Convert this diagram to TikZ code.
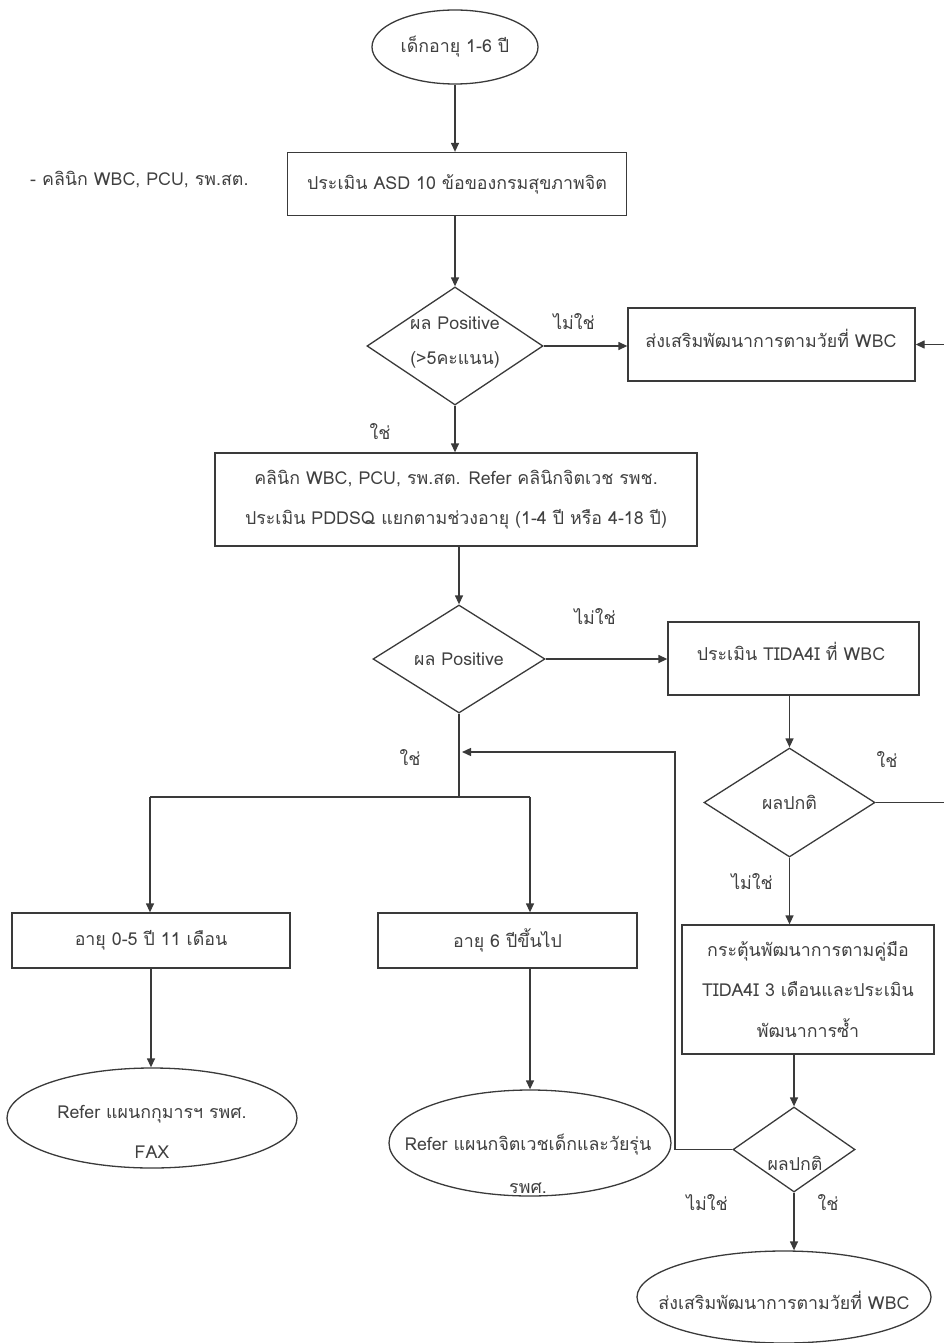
\documentclass[tikz,border=0pt]{standalone}
\usepackage{fontspec}
\setmainfont[Script=Thai]{Loma}
\usetikzlibrary{shapes.geometric,arrows.meta}
\definecolor{linec}{HTML}{3A3A3A}
\definecolor{textc}{HTML}{404040}
\newcommand\thf[1]{\fontsize{17.8}{#1}\selectfont}
\begin{document}
\begin{tikzpicture}[x=1pt,y=-1pt,
  ln/.style={draw=linec,line width=1.3pt},
  arr/.style={ln,-{Triangle[length=9pt,width=8pt]}},
  box/.style={ln,rectangle,inner sep=0pt,text=textc,font={\thf{40}},align=center},
  dia/.style={ln,diamond,inner sep=0pt,text=textc,font={\thf{20}},align=center},
  term/.style={ln,ellipse,inner sep=0pt,text=textc,font={\thf{20}},align=center},
  txt/.style={text=textc,font={\thf{20}},align=center,inner sep=0pt}]
\useasboundingbox (0,0) rectangle (944,1343);

% nodes
\node[term,minimum width=166pt,minimum height=74pt] (start) at (455,47) {เด็กอายุ 1-6 ปี};
\node[box,minimum width=339pt,minimum height=63pt] (asd) at (457,184) {ประเมิน ASD 10 ข้อของกรมสุขภาพจิต};
\node[txt,anchor=west] (note) at (30,180) {- คลินิก WBC, PCU, รพ.สต.};
\node[dia,minimum width=176pt,minimum height=118pt] (d1) at (455,346) {};
\node[txt,font={\thf{35}}] (d1t) at (455,342) {ผล Positive\\(>5คะแนน)};
\node[box,minimum width=287pt,minimum height=73pt] (wbc1) at (771.5,344.5) {};
\node[txt] (wbc1t) at (771,338) {ส่งเสริมพัฒนาการตามวัยที่ WBC};
\node[box,minimum width=482pt,minimum height=93pt] (big) at (456,499.5) {คลินิก WBC, PCU, รพ.สต. Refer คลินิกจิตเวช รพช.\\ประเมิน PDDSQ แยกตามช่วงอายุ (1-4 ปี หรือ 4-18 ปี)};
\node[dia,minimum width=172pt,minimum height=108pt] (d2) at (459,659) {ผล Positive};
\node[box,minimum width=251pt,minimum height=73pt] (tida) at (793.5,658.5) {};
\node[txt] (tidat) at (791,651) {ประเมิน TIDA4I ที่ WBC};
\node[dia,minimum width=171pt,minimum height=109pt] (d3) at (789.5,802.5) {ผลปกติ};
\node[box,minimum width=252pt,minimum height=129pt,font={\thf{40.5}}] (stim) at (808,989.5) {กระตุ้นพัฒนาการตามคู่มือ\\TIDA4I 3 เดือนและประเมิน\\พัฒนาการซ้ำ};
\node[dia,minimum width=122pt,minimum height=85pt] (d4) at (794,1149.5) {};
\node[txt] (d4t) at (795,1163) {ผลปกติ};
\node[term,minimum width=294pt,minimum height=92pt] (end) at (784,1297) {};
\node[txt] (endt) at (784,1300) {ส่งเสริมพัฒนาการตามวัยที่ WBC};
\node[box,minimum width=278pt,minimum height=55pt] (age1) at (151,940.5) {อายุ 0-5 ปี 11 เดือน};
\node[box,minimum width=259pt,minimum height=55pt] (age2) at (507.5,940.5) {อายุ 6 ปีขึ้นไป};
\node[term,minimum width=290pt,minimum height=100pt] (ref1) at (152,1118) {};
\node[txt,font={\thf{40}}] (ref1t) at (152,1132) {Refer แผนกกุมารฯ รพศ.\\FAX};
\node[term,minimum width=282pt,minimum height=106pt] (ref2) at (530,1143) {};
\node[txt,font={\thf{43}}] (ref2t) at (528,1164) {Refer แผนกจิตเวชเด็กและวัยรุ่น\\รพศ.};

% labels
\node[txt] (l1) at (574,322) {ไม่ใช่};
\node[txt] (l2) at (380,432) {ใช่};
\node[txt] (l3) at (595,617) {ไม่ใช่};
\node[txt] (l4) at (410,758) {ใช่};
\node[txt] (l5) at (887,760) {ใช่};
\node[txt] (l6) at (752,882) {ไม่ใช่};
\node[txt] (l7) at (707,1203) {ไม่ใช่};
\node[txt] (l8) at (828,1203) {ใช่};

% helper coordinates
\coordinate (rx) at (948,0);
\coordinate (lx) at (675,752);
\coordinate (bl) at (150,797);
\coordinate (br) at (530,797);

% connectors
\draw[arr] (start.south) -- (start.south |- asd.north);
\draw[arr] (asd.south -| d1.north) -- (d1.north);
\draw[arr] (d1.east) -- (d1.east -| wbc1.west);
\draw[arr] (d1.south) -- (d1.south |- big.north);
\draw[arr] (big.south -| d2.north) -- (d2.north);
\draw[arr] (d2.east) -- (d2.east -| tida.west);
\draw[arr] (tida.south -| d3.north) -- (d3.north);
\draw[arr] (d3.east) -- (d3.east -| rx) -- (wbc1.east -| rx) -- (wbc1.east);
\draw[arr] (d3.south) -- (d3.south |- stim.north);
\draw[arr] (stim.south -| d4.north) -- (d4.north);
\draw[arr,shorten >=3pt] (d4.west) -| (lx) -- (lx -| d2.south);
\draw[arr] (d4.south) -- (d4.south |- end.north);
\draw[ln] (d2.south) -- (d2.south |- bl);
\draw[ln] (bl) -- (br);
\draw[arr] (bl) -- (bl |- age1.north);
\draw[arr] (br) -- (br |- age2.north);
\draw[arr] (age1.south) -- (age1.south |- ref1.north);
\draw[arr] (br |- age2.south) -- (br |- ref2.north);
\end{tikzpicture}
\end{document}
